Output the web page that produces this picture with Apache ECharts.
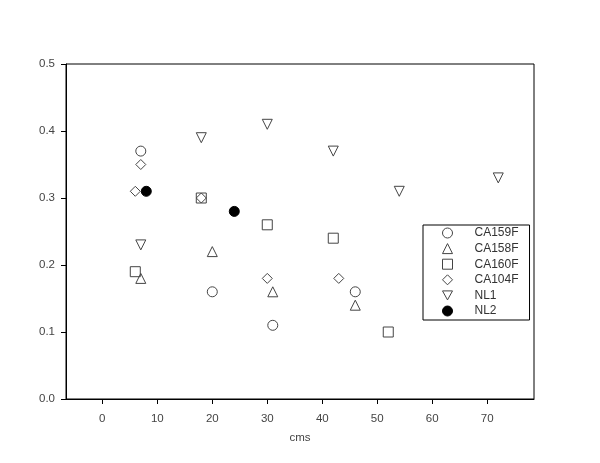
<!DOCTYPE html>
<html>
<head>
<meta charset="utf-8">
<script src="https://cdn.jsdelivr.net/npm/echarts@6/dist/echarts.min.js"></script>
<style>html,body{margin:0;padding:0;background:#fff}#c{width:600px;height:463px}</style>
</head>
<body>
<div id="c"></div>
<script>
var xTicks = [0, 10, 20, 30, 40, 50, 60, 70];
var yTicks = [0.0, 0.1, 0.2, 0.3, 0.4, 0.5];
var CA159F = [[7, 0.37], [20, 0.16], [31, 0.11], [46, 0.16]];
var CA158F = [[7, 0.18], [20, 0.22], [31, 0.16], [46, 0.14]];
var CA160F = [[6, 0.19], [18, 0.30], [30, 0.26], [42, 0.24], [52, 0.10]];
var CA104F = [[6, 0.31], [7, 0.35], [18, 0.30], [30, 0.18], [43, 0.18]];
var NL1 = [[7, 0.23], [18, 0.39], [30, 0.41], [42, 0.37], [54, 0.31], [72, 0.33]];
var NL2 = [[8, 0.31], [24, 0.28]];

var stroke = '#444';
function hollow(name, data, symbol, size) {
  return {
    name: name, type: 'scatter', data: data, symbol: symbol, symbolSize: size,
    itemStyle: { color: 'rgba(255,255,255,0)', borderColor: stroke, borderWidth: 1, opacity: 1 },
    emphasis: { disabled: true }
  };
}
var downTri = 'path://M0,0 L10,0 L5,9 Z';
var chart = echarts.init(document.getElementById('c'));
chart.setOption({
  animation: false,
  grid: { left: 66, right: 66, top: 64, bottom: 64, show: true, borderColor: '#000', borderWidth: 1, backgroundColor: 'transparent' },
  xAxis: {
    type: 'value', min: -6.6, max: 78.5,
    name: 'cms', nameLocation: 'middle', nameGap: 33,
    nameTextStyle: { color: '#444', fontSize: 11.5, fontFamily: 'Liberation Sans, Arial' },
    axisLine: { show: true, onZero: false, lineStyle: { color: '#000', width: 1 } },
    axisTick: { show: true, length: 5, customValues: xTicks, lineStyle: { color: '#000' } },
    axisLabel: { customValues: xTicks, margin: 14, color: '#444', fontSize: 11.5, fontFamily: 'Liberation Sans, Arial' },
    splitLine: { show: false }
  },
  yAxis: {
    type: 'value', min: 0, max: 0.5, interval: 0.1,
    axisLine: { show: true, onZero: false, lineStyle: { color: '#000', width: 1 } },
    axisTick: { show: true, length: 5, lineStyle: { color: '#000' } },
    axisLabel: { margin: 11, color: '#444', fontSize: 11.5, fontFamily: 'Liberation Sans, Arial',
      formatter: function (v) { return v.toFixed(1); } },
    splitLine: { show: false }
  },
  legend: {
    orient: 'vertical', left: 423, top: 225,
    padding: [2, 11, 3, 19],
    itemWidth: 10, itemHeight: 10, itemGap: 3.6,
    borderColor: '#000', borderWidth: 1,
    itemStyle: { borderWidth: 1 },
    textStyle: { color: '#333', fontSize: 12, lineHeight: 12, fontFamily: 'Liberation Sans, Arial', padding: [0, 0, 0, 17] },
    data: ['CA159F', 'CA158F', 'CA160F', 'CA104F', 'NL1', 'NL2']
  },
  series: [
    hollow('CA159F', CA159F, 'circle', 10),
    hollow('CA158F', CA158F, 'triangle', 10),
    hollow('CA160F', CA160F, 'rect', 10),
    hollow('CA104F', CA104F, 'diamond', 10),
    hollow('NL1', NL1, downTri, 10),
    { name: 'NL2', type: 'scatter', data: NL2, symbol: 'circle', symbolSize: 10,
      itemStyle: { color: '#000', borderColor: '#000', borderWidth: 1, opacity: 1 }, emphasis: { disabled: true } }
  ]
});
</script>
</body>
</html>
